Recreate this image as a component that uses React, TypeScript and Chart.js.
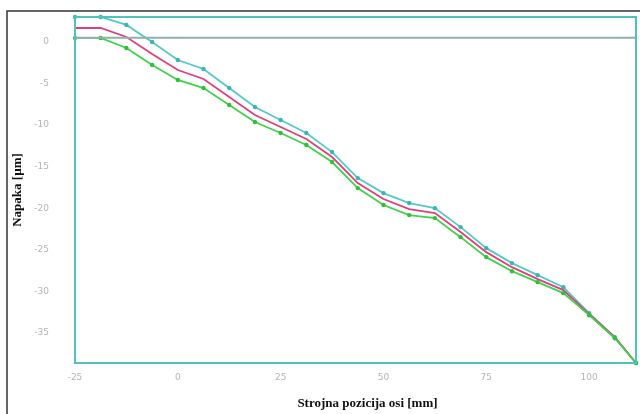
import React, { useEffect, useRef } from "react";
import { Chart, registerables } from "chart.js";

Chart.register(...registerables);

const positions = [-25, -18.75, -12.5, -6.25, 0, 6.25, 12.5, 18.75, 25, 31.25, 37.5, 43.75, 50, 56.25, 62.5, 68.75, 75, 81.25, 87.5, 93.75, 100, 106.25, 111.4];
const upperErr = [3.0, 3.0, 2.05, 0.0, -2.17, -3.25, -5.54, -7.82, -9.39, -10.95, -13.24, -16.37, -18.17, -19.37, -19.98, -22.26, -24.79, -26.59, -28.04, -29.48, -32.61, -35.5, -38.6];
const meanErr = [1.68, 1.68, 0.6, -1.44, -3.37, -4.45, -6.62, -8.78, -10.23, -11.67, -13.84, -16.97, -18.89, -20.1, -20.58, -22.86, -25.27, -27.08, -28.52, -29.84, -32.73, -35.5, -38.6];
const lowerErr = [0.48, 0.48, -0.72, -2.77, -4.57, -5.54, -7.58, -9.63, -10.95, -12.39, -14.44, -17.57, -19.61, -20.82, -21.18, -23.47, -25.87, -27.56, -28.88, -30.2, -32.85, -35.62, -38.6];
const refLevel = 0.5;
const xTicks = [-25, 0, 25, 50, 75, 100];
const yTicks = [0, -5, -10, -15, -20, -25, -30, -35];
const xTitle = "Strojna pozicija osi [mm]";
const yTitle = "Napaka [µm]";

const pts = (ys: number[]) => positions.map((x, i) => ({ x, y: ys[i] }));

export default function App() {
  const ref = useRef<HTMLCanvasElement>(null);
  useEffect(() => {
    document.body.style.margin = "0";
    const deco = {
      id: "deco",
      beforeDraw(chart: any) {
        const c = chart.ctx;
        c.save();
        c.fillStyle = "#ffffff";
        c.fillRect(0, 0, chart.width, chart.height);
        c.strokeStyle = "#333";
        c.lineWidth = 1.5;
        c.beginPath();
        c.moveTo(7, 414);
        c.lineTo(7, 11);
        c.lineTo(640, 11);
        c.stroke();
        c.restore();
      },
      afterDraw(chart: any) {
        const c = chart.ctx;
        const a = chart.chartArea;
        c.save();
        c.strokeStyle = "#4cc4bc";
        c.lineWidth = 2;
        c.strokeRect(a.left, a.top, a.right - a.left, a.bottom - a.top);
        c.fillStyle = "#111";
        c.font = "bold 13px 'Liberation Serif'";
        c.textAlign = "center";
        c.textBaseline = "middle";
        c.fillText(xTitle, (a.left + a.right) / 2 + 12, 404);
        c.translate(18, 190);
        c.rotate(-Math.PI / 2);
        c.fillText(yTitle, 0, 0);
        c.restore();
      },
    };
    const chart = new Chart(ref.current!, {
      type: "line",
      data: {
        datasets: [
          {
            data: positions.map((x) => ({ x, y: refLevel })),
            borderColor: "#8fb0b0",
            borderWidth: 2,
            pointRadius: 0,
          },
          {
            data: pts(lowerErr),
            borderColor: "#3fd24a",
            backgroundColor: "#2fc03a",
            borderWidth: 1.8,
            pointRadius: 2.2,
            pointBorderWidth: 0,
          },
          {
            data: pts(meanErr),
            borderColor: "#e0407a",
            borderWidth: 1.8,
            pointRadius: 0,
          },
          {
            data: pts(upperErr),
            borderColor: "#55c8c8",
            backgroundColor: "#3cb4b4",
            borderWidth: 1.8,
            pointRadius: 2.2,
            pointBorderWidth: 0,
          },
        ],
      },
      options: {
        animation: false,
        responsive: false,
        maintainAspectRatio: false,
        clip: false as any,
        layout: { padding: { top: 17, right: 2, left: 0, bottom: 0 } },
        plugins: { legend: { display: false }, tooltip: { enabled: false } },
        scales: {
          x: {
            type: "linear",
            min: -25,
            max: 111.4,
            grid: { display: false, drawTicks: false },
            border: { display: false },
            afterBuildTicks: (s: any) => {
              s.ticks = xTicks.map((v) => ({ value: v }));
            },
            afterFit: (s: any) => {
              s.height = 414 - 363;
              s.paddingLeft = 0;
              s.paddingRight = 0;
            },
            ticks: {
              padding: 9,
              color: "#b4b4b4",
              font: { size: 9, family: "'DejaVu Sans'" },
              maxRotation: 0,
            },
          },
          y: {
            min: -38.6,
            max: 3,
            grid: { display: false, drawTicks: false },
            border: { display: false },
            afterBuildTicks: (s: any) => {
              s.ticks = yTicks.map((v) => ({ value: v }));
            },
            afterFit: (s: any) => {
              s.width = 75;
              s.paddingTop = 0;
              s.paddingBottom = 0;
            },
            ticks: {
              padding: 26,
              color: "#b4b4b4",
              font: { size: 9, family: "'DejaVu Sans'" },
            },
          },
        },
      },
      plugins: [deco],
    });
    return () => chart.destroy();
  }, []);
  return <canvas ref={ref} width={640} height={414} style={{ display: "block" }} />;
}
